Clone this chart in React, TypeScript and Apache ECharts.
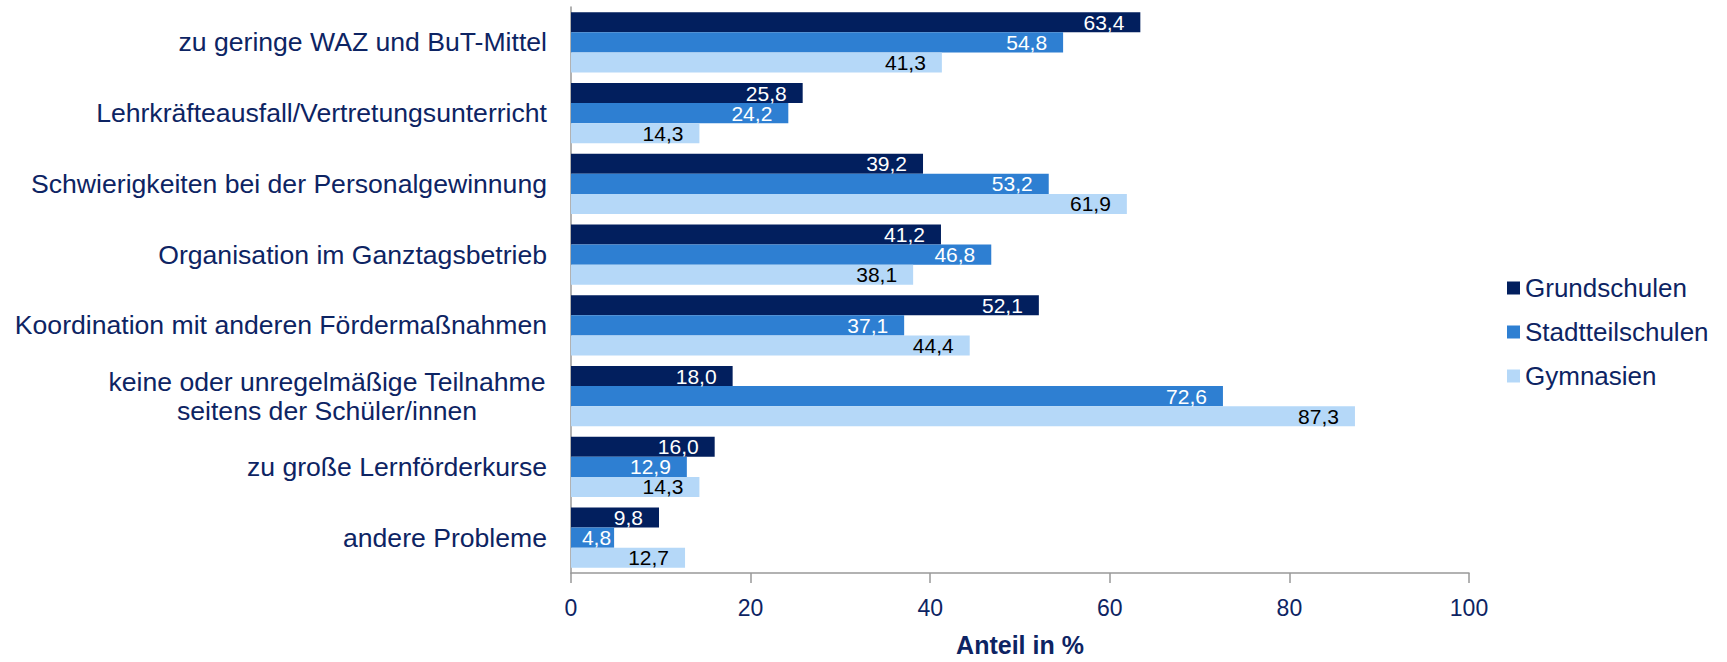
import React, { useEffect, useRef } from "react";
import * as echarts from "echarts";

const categories = [
  "zu geringe WAZ und BuT-Mittel",
  "Lehrkräfteausfall/Vertretungsunterricht",
  "Schwierigkeiten bei der Personalgewinnung",
  "Organisation im Ganztagsbetrieb",
  "Koordination mit anderen Fördermaßnahmen",
  "keine oder unregelmäßige Teilnahme\nseitens der Schüler/innen",
  "zu große Lernförderkurse",
  "andere Probleme",
];
const seriesNames = ["Grundschulen", "Stadtteilschulen", "Gymnasien"];
const grundschulen = [63.4, 25.8, 39.2, 41.2, 52.1, 18.0, 16.0, 9.8];
const stadtteilschulen = [54.8, 24.2, 53.2, 46.8, 37.1, 72.6, 12.9, 4.8];
const gymnasien = [41.3, 14.3, 61.9, 38.1, 44.4, 87.3, 14.3, 12.7];
const xTicks = [0, 20, 40, 60, 80, 100];

const colors = ["#021f5e", "#2e7fd2", "#b5d8f8"];
const labelColors = ["#ffffff", "#ffffff", "#000000"];
const navy = "#0d2463";
const FONT = "Arial, 'Liberation Sans', sans-serif";

export default function App() {
  const ref = useRef<HTMLDivElement>(null);
  useEffect(() => {
    document.body.style.margin = "0";
    const chart = echarts.init(ref.current!, null, { renderer: "svg" });
    const allData = [grundschulen, stadtteilschulen, gymnasien];
    const fmt = (v: number) => v.toFixed(1).replace(".", ",");
    const series = allData.map((arr, i) => ({
      name: seriesNames[i],
      type: "bar",
      barGap: "0%",
      barCategoryGap: "15%",
      itemStyle: { color: colors[i] },
      label: {
        show: true,
        position: "insideRight",
        distance: 16,
        color: labelColors[i],
        fontSize: 21,
        fontFamily: FONT,
        formatter: (p: any) => fmt(p.value),
      },
      data: arr.map((v) => (v < 6 ? { value: v, label: { distance: 3 } } : v)),
    }));
    chart.setOption({
      animation: false,
      textStyle: { fontFamily: FONT },
      grid: { left: 571, right: 258, top: 7, bottom: 81, containLabel: false },
      legend: {
        orient: "vertical",
        left: 1502,
        top: 270,
        icon: "rect",
        itemWidth: 13,
        itemHeight: 13,
        itemGap: 18,
        textStyle: { color: navy, fontSize: 26, fontFamily: FONT },
        data: seriesNames,
      },
      xAxis: {
        type: "value",
        min: xTicks[0],
        max: xTicks[xTicks.length - 1],
        interval: 20,
        name: "Anteil in %",
        nameLocation: "middle",
        nameGap: 59,
        nameTextStyle: { color: navy, fontSize: 25, fontWeight: "bold", fontFamily: FONT },
        axisLine: { show: true, lineStyle: { color: "#999999", width: 1.5 } },
        axisTick: { show: true, length: 10, lineStyle: { color: "#999999", width: 1.5 } },
        axisLabel: { color: navy, fontSize: 23, margin: 23, fontFamily: FONT },
        splitLine: { show: false },
      },
      yAxis: {
        type: "category",
        inverse: true,
        data: categories,
        axisLine: { show: true, lineStyle: { color: "#999999", width: 1.5 } },
        axisTick: { show: false },
        axisLabel: {
          color: navy,
          fontSize: 26.6,
          margin: 24,
          fontFamily: FONT,
          lineHeight: 29,
          formatter: (v: string) =>
            v.includes("\n")
              ? v
                  .split("\n")
                  .map((l) => "{c|" + l + "}")
                  .join("\n")
              : v,
          rich: {
            c: {
              width: 440,
              align: "center",
              color: navy,
              fontSize: 26.6,
              lineHeight: 29,
              fontFamily: FONT,
            },
          },
        },
      },
      series,
    });
    return () => chart.dispose();
  }, []);
  return (
    <div
      ref={ref}
      style={{ position: "fixed", left: 0, top: 0, width: "1727px", height: "662px", background: "#fff" }}
    />
  );
}
